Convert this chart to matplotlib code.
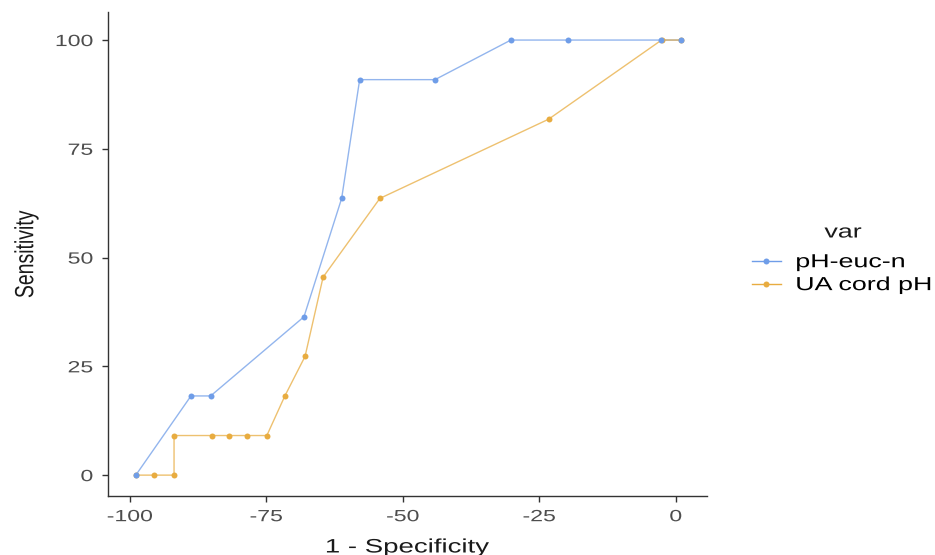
import matplotlib
matplotlib.use("Agg")
import matplotlib.pyplot as plt
from matplotlib.patheffects import AbstractPathEffect
from matplotlib.transforms import Affine2D

plt.rcParams["font.family"] = ["Liberation Sans", "DejaVu Sans"]

# ROC-style curves, x = 1 - specificity (as negative %), y = sensitivity (%)
euc_x = [-98.9, -88.8, -85.2, -68.1, -61.2, -57.9, -44.1, -30.2, -19.8, -2.7, 0.9]
euc_y = [0.0, 18.2, 18.2, 36.4, 63.6, 90.9, 90.9, 100.0, 100.0, 100.0, 100.0]

cord_x = [-98.9, -95.6, -91.9, -91.9, -85.0, -81.9, -78.6, -74.9, -71.6, -67.9,
          -64.6, -54.2, -23.3, -2.6, 0.9]
cord_y = [0.0, 0.0, 0.0, 9.1, 9.1, 9.1, 9.1, 9.1, 18.2, 27.3,
          45.5, 63.6, 81.8, 100.0, 100.0]

series = [
    ("pH-euc-n", euc_x, euc_y, "#6f9de8"),
    ("UA cord pH", cord_x, cord_y, "#e8ac40"),
]

x_ticks = [-100, -75, -50, -25, 0]
y_ticks = [0, 25, 50, 75, 100]

# the reference image is stretched sideways, so the glyphs are too
STRETCH = 1.42


class Stretch(AbstractPathEffect):
    """Scale a text path in its own glyph coordinates."""

    def __init__(self, sx=1.0, sy=1.0, anchor="center"):
        super().__init__()
        self.sx, self.sy, self.anchor = sx, sy, anchor

    def draw_path(self, renderer, gc, tpath, affine, rgbFace=None):
        ext = tpath.get_extents()
        if self.anchor == "left":
            cx = ext.x0
        elif self.anchor == "right":
            cx = ext.x1
        else:
            cx = (ext.x0 + ext.x1) / 2
        cy = (ext.y0 + ext.y1) / 2
        pre = Affine2D().translate(-cx, -cy).scale(self.sx, self.sy).translate(cx, cy)
        renderer.draw_path(gc, tpath, pre + affine, rgbFace)


fig = plt.figure(figsize=(9.35, 5.55), dpi=100)
ax = fig.add_axes([0.1155, 0.1063, 0.6405, 0.8717])

# lines first, then points (like ggplot layers), blue points on top
for name, xs, ys, col in series:
    ax.plot(xs, ys, color=col, lw=1.0, alpha=0.75, zorder=2)
handles = []
for z, (name, xs, ys, col) in zip([4, 3], series):
    ax.plot(xs, ys, ls="none", marker="o", ms=4.3, color=col,
            markeredgewidth=0, zorder=z)
    h, = ax.plot([], [], color=col, lw=1.0, marker="o", ms=4.3,
                 markeredgewidth=0, label=name)
    handles.append(h)

ax.set_xlim(-104.0, 5.7)
ax.set_ylim(-4.8, 106.4)
ax.set_xticks(x_ticks)
ax.set_yticks(y_ticks)
ax.set_xticklabels([str(t) for t in x_ticks])
ax.set_yticklabels([str(t) for t in y_ticks])

for side in ["top", "right"]:
    ax.spines[side].set_visible(False)
for side in ["left", "bottom"]:
    ax.spines[side].set_color("#333333")
    ax.spines[side].set_linewidth(1.0)
ax.tick_params(axis="both", direction="out", length=4.5, width=1.0,
               color="#333333", labelcolor="#4d4d4d", labelsize=11.7)
ax.tick_params(axis="x", pad=5)
ax.tick_params(axis="y", pad=6.3)

for lab in ax.get_xticklabels():
    lab.set_path_effects([Stretch(sx=STRETCH)])
for lab in ax.get_yticklabels():
    lab.set_path_effects([Stretch(sx=STRETCH, anchor="right")])

xl = ax.set_xlabel("1 - Specificity", fontsize=14, color="#1a1a1a", labelpad=11)
xl.set_path_effects([Stretch(sx=STRETCH)])
yl = ax.set_ylabel("Sensitivity", fontsize=14, color="#1a1a1a", labelpad=22)
yl.set_path_effects([Stretch(sy=STRETCH - 0.07)])

leg = ax.legend(handles=handles, loc="upper left",
                bbox_to_anchor=(752 / 935, 1 - 254 / 555),
                bbox_transform=fig.transFigure, frameon=False, fontsize=13.6,
                handlelength=1.52, handletextpad=0.8, labelspacing=0.3,
                borderpad=0, borderaxespad=0)
for t in leg.get_texts():
    t.set_path_effects([Stretch(sx=STRETCH, anchor="left")])

legend_title = fig.text(843 / 935, 1 - 233 / 555, "var", fontsize=13.6,
                        color="#1a1a1a", ha="center", va="center")
legend_title.set_path_effects([Stretch(sx=STRETCH)])

fig.savefig("out.png", dpi=100)
plt.close(fig)
